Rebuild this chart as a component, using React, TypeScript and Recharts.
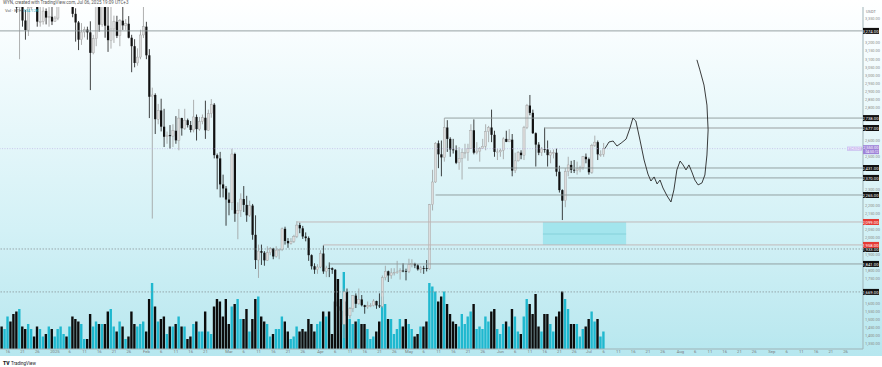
import { Bar, Cell, ComposedChart, Line, ReferenceArea, ReferenceDot, ReferenceLine, XAxis, YAxis } from "recharts";

// day 0 = Jan 1, 2025; first candle is Dec 14, 2024
const firstDay = -18;

const opens = [
  3908, 3873, 3960, 3986, 3876, 3625, 3418, 3479, 3338, 3279, 3419, 3493, 3489, 3331, 3332, 3396, 3356, 3361,
  3332, 3353, 3452, 3605, 3657, 3635, 3686, 3379, 3326, 3220, 3267, 3282, 3265, 3139, 3226, 3451, 3312, 3474, 3306, 3217, 3286, 3330, 3244, 3337, 3308, 3318, 3232, 3180, 3077, 3113, 3249,
  3300, 3124, 2869, 2880, 2731, 2785, 2685, 2623, 2633, 2627, 2660, 2601, 2738, 2675, 2725, 2695, 2665, 2745, 2670, 2717, 2740, 2663, 2765, 2820, 2510, 2490, 2330, 2305,
  2237, 2217, 2517, 2150, 2170, 2240, 2204, 2140, 2200, 2020, 1865, 1920, 1910, 1863, 1910, 1935, 1887, 1926, 1930, 2057, 1982, 1968, 1980, 2010, 2080, 2060, 2010, 2000, 1895, 1827, 1806,
  1822, 1905, 1795, 1816, 1815, 1805, 1580, 1553, 1470, 1670, 1522, 1566, 1646, 1596, 1623, 1587, 1577, 1585, 1585, 1613, 1586, 1580, 1757, 1796, 1770, 1786, 1790, 1792, 1800, 1798,
  1793, 1838, 1842, 1832, 1808, 1816, 1815, 1811, 2206, 2345, 2583, 2515, 2496, 2680, 2610, 2545, 2540, 2463, 2490, 2525, 2525, 2550, 2663, 2525, 2535, 2550, 2565, 2655, 2680, 2635, 2530,
  2530, 2540, 2610, 2592, 2605, 2415, 2475, 2525, 2510, 2680, 2815, 2770, 2645, 2575, 2525, 2548, 2545, 2510, 2525, 2525, 2408, 2295, 2230, 2410, 2450, 2420, 2415, 2425, 2435, 2500,
  2485, 2405, 2570, 2590, 2515, 2515,
];
const highs = [
  3944, 3975, 4107, 4038, 3909, 3724, 3495, 3557, 3402, 3443, 3520, 3515, 3500, 3429, 3420, 3412, 3430, 3451,
  3366, 3500, 3620, 3672, 3670, 3744, 3700, 3413, 3335, 3322, 3300, 3300, 3333, 3250, 3473, 3475, 3525, 3482, 3446, 3450, 3368, 3367, 3347, 3425, 3347, 3365, 3250, 3223, 3167, 3281, 3437,
  3330, 3162, 2925, 2890, 2825, 2857, 2795, 2655, 2695, 2700, 2750, 2794, 2740, 2795, 2735, 2720, 2850, 2760, 2745, 2760, 2845, 2790, 2855, 2830, 2520, 2530, 2390, 2320,
  2280, 2550, 2525, 2220, 2275, 2320, 2260, 2230, 2210, 2140, 1960, 1960, 1920, 1950, 1945, 1940, 1950, 1935, 2065, 2070, 2000, 2000, 2020, 2104, 2095, 2075, 2035, 2010, 1900, 1845, 1840,
  1925, 1955, 1830, 1850, 1820, 1810, 1640, 1615, 1690, 1690, 1576, 1650, 1660, 1690, 1650, 1590, 1610, 1600, 1625, 1615, 1660, 1770, 1830, 1800, 1815, 1815, 1860, 1815, 1845, 1812,
  1873, 1870, 1848, 1840, 1830, 1830, 1865, 2210, 2420, 2590, 2600, 2600, 2738, 2725, 2620, 2610, 2570, 2560, 2550, 2580, 2580, 2700, 2730, 2590, 2560, 2610, 2700, 2690, 2790, 2660, 2550,
  2550, 2620, 2660, 2670, 2640, 2525, 2535, 2540, 2690, 2825, 2880, 2790, 2650, 2590, 2560, 2680, 2600, 2540, 2545, 2550, 2445, 2300, 2430, 2500, 2475, 2480, 2470, 2445, 2505, 2520,
  2495, 2580, 2630, 2600, 2540, 2585,
];
const lows = [
  3850, 3835, 3880, 3850, 3575, 3385, 3100, 3300, 3220, 3243, 3400, 3430, 3300, 3300, 3313, 3314, 3300, 3310,
  3330, 3340, 3440, 3590, 3600, 3620, 3358, 3208, 3156, 3188, 3234, 3220, 2910, 3130, 3180, 3269, 3300, 3232, 3145, 3165, 3200, 3230, 3180, 3280, 3280, 3228, 3020, 3050, 3060, 3100, 3230,
  3100, 2738, 2120, 2640, 2700, 2656, 2560, 2580, 2550, 2560, 2580, 2540, 2630, 2665, 2680, 2650, 2650, 2600, 2660, 2700, 2610, 2660, 2740, 2490, 2300, 2250, 2250, 2076,
  2140, 2172, 2100, 1993, 2130, 2160, 2100, 2130, 1990, 1810, 1755, 1835, 1830, 1860, 1895, 1870, 1880, 1870, 1920, 1960, 1940, 1960, 1970, 2000, 2030, 1995, 1980, 1860, 1807, 1780, 1780,
  1815, 1780, 1760, 1760, 1780, 1540, 1410, 1450, 1385, 1470, 1505, 1545, 1570, 1590, 1580, 1535, 1565, 1575, 1580, 1565, 1570, 1570, 1740, 1730, 1750, 1770, 1780, 1745, 1790, 1740,
  1785, 1820, 1815, 1800, 1785, 1780, 1795, 1805, 2170, 2340, 2430, 2380, 2470, 2530, 2500, 2520, 2455, 2420, 2360, 2490, 2475, 2550, 2515, 2515, 2470, 2550, 2540, 2590, 2590, 2500, 2480,
  2500, 2485, 2590, 2590, 2380, 2400, 2470, 2485, 2480, 2670, 2755, 2640, 2440, 2510, 2505, 2525, 2440, 2460, 2490, 2380, 2280, 2111, 2190, 2380, 2400, 2400, 2390, 2405, 2420, 2460,
  2390, 2395, 2560, 2480, 2500, 2500,
];
const closes = [
  3873, 3960, 3986, 3876, 3625, 3418, 3479, 3338, 3279, 3419, 3493, 3489, 3331, 3332, 3396, 3356, 3361, 3332,
  3353, 3452, 3605, 3657, 3635, 3686, 3379, 3326, 3220, 3267, 3282, 3265, 3139, 3226, 3451, 3312, 3474, 3306, 3217, 3286, 3330, 3244, 3337, 3308, 3318, 3232, 3180, 3077, 3113, 3249, 3300,
  3124, 2869, 2880, 2731, 2785, 2685, 2623, 2633, 2627, 2660, 2601, 2738, 2675, 2725, 2695, 2665, 2745, 2670, 2717, 2740, 2663, 2765, 2820, 2510, 2490, 2330, 2305, 2237,
  2217, 2517, 2150, 2170, 2240, 2204, 2140, 2200, 2020, 1865, 1920, 1910, 1863, 1910, 1935, 1887, 1926, 1930, 2057, 1982, 1968, 1980, 2010, 2080, 2060, 2010, 2000, 1895, 1827, 1806, 1822,
  1905, 1795, 1816, 1815, 1805, 1580, 1553, 1470, 1670, 1522, 1566, 1646, 1596, 1623, 1587, 1577, 1585, 1585, 1613, 1586, 1580, 1757, 1796, 1770, 1786, 1790, 1792, 1800, 1798, 1793,
  1838, 1842, 1832, 1808, 1816, 1815, 1811, 2206, 2345, 2583, 2515, 2496, 2680, 2610, 2545, 2540, 2463, 2490, 2525, 2525, 2550, 2663, 2525, 2535, 2550, 2565, 2655, 2680, 2635, 2530, 2530,
  2540, 2610, 2592, 2605, 2415, 2475, 2525, 2510, 2680, 2815, 2770, 2645, 2575, 2525, 2548, 2545, 2510, 2525, 2525, 2408, 2295, 2230, 2410, 2450, 2420, 2415, 2425, 2435, 2500, 2485,
  2405, 2570, 2590, 2515, 2515, 2550,
];
const volumes = [
  450, 400, 650, 550, 700, 750, 800, 450, 400, 500, 400, 250, 450, 400, 250, 300, 450, 400,
  250, 400, 450, 300, 250, 450, 650, 600, 550, 500, 200, 200, 700, 450, 550, 500, 500, 500, 750, 800, 450, 350, 550, 450, 200, 250, 750, 500, 450, 500, 550,
  350, 1000, 1320, 850, 550, 600, 650, 300, 450, 450, 500, 650, 450, 450, 200, 250, 500, 550, 350, 350, 750, 350, 300, 850, 1000, 950, 650, 1000,
  500, 850, 900, 1000, 600, 600, 800, 350, 600, 1000, 1050, 650, 550, 500, 250, 300, 400, 400, 650, 550, 350, 200, 250, 450, 350, 400, 350, 600, 500, 350, 500,
  550, 750, 650, 750, 300, 950, 1400, 1000, 1540, 950, 600, 500, 550, 600, 500, 500, 400, 200, 250, 350, 550, 1050, 900, 600, 600, 300, 400, 600, 450, 600,
  500, 400, 250, 300, 450, 450, 550, 1320, 1250, 1150, 950, 1050, 1150, 900, 700, 550, 500, 450, 700, 500, 650, 750, 900, 400, 450, 400, 650, 550, 750, 800, 400,
  300, 500, 550, 450, 800, 650, 350, 300, 650, 1000, 900, 700, 1100, 450, 350, 700, 700, 500, 350, 650, 750, 1150, 1000, 800, 500, 500, 500, 250, 400, 450,
  600, 750, 550, 600, 250, 350,
];

// drawn levels
const fullLevels = [3274];
const dottedLevels = [1933, 1669];
const segLevels = [2738, 2677, 2431, 2370, 2265, 2099, 1958, 1841];
const segFrom = [132, 166, 140, 174, 129, 82, 91, 93];
const redTagged = [2099, 1958];
const lastPrice = 2550;

// zone box
const zoneFrom = 165.4;
const zoneTo = 193.6;
const zoneLow = 1958;
const zoneHigh = 2099;
const zoneMid = 2025;

// hand drawn projection
const projDays = [186.4, 187.8, 189.2, 190.5, 191.9, 193.6, 194.9, 195.9, 196.9, 198.3, 199.7, 201.0, 202.0, 203.1, 204.1, 205.1, 206.1, 207.5, 208.8, 209.8, 210.8, 211.9, 212.9, 213.9, 214.9, 215.9, 216.9, 218.0, 219.3, 220.3, 221.0, 221.4, 221.0, 220.0, 218.6, 217.6];
const projPrices = [2550, 2591, 2597, 2566, 2584, 2609, 2676, 2738, 2720, 2603, 2480, 2394, 2351, 2376, 2333, 2357, 2308, 2259, 2222, 2296, 2419, 2474, 2450, 2419, 2450, 2406, 2357, 2327, 2339, 2388, 2511, 2665, 2818, 2941, 3034, 3096];

const timeTicks = [-16, -11, -6, 0, 5, 10, 15, 20, 25, 31, 36, 41, 46, 51, 59, 64, 69, 74, 79, 84, 90, 95, 100, 105, 110, 115, 120, 125, 130, 135, 140, 145, 151, 156, 161, 166, 171, 176, 181, 186, 191, 196, 201, 206, 212, 217, 222, 227, 232, 237, 243, 248, 253, 258, 263, 268];
const timeLabels = ["16", "21", "26", "2025", "6", "11", "16", "21", "26", "Feb", "6", "11", "16", "21", "Mar", "6", "11", "16", "21", "26", "Apr", "6", "11", "16", "21", "26", "May", "6", "11", "16", "21", "26", "Jun", "6", "11", "16", "21", "26", "Jul", "6", "11", "16", "21", "26", "Aug", "6", "11", "16", "21", "26", "Sep", "6", "11", "16", "21", "26"];

const priceTicks = [1350, 1400, 1450, 1500, 1550, 1600, 1650, 1700, 1750, 1800, 1850, 1900, 1950, 2000, 2050, 2100, 2150, 2200, 2250, 2300, 2350, 2400, 2450, 2500, 2550, 2600, 2650, 2700, 2750, 2800, 2850, 2900, 2950, 3000, 3050, 3100, 3150, 3200, 3250, 3300, 3350];

const rows = closes.map((c, i) => ({
  d: firstDay + i,
  open: opens[i],
  high: highs[i],
  low: lows[i],
  close: c,
  range: [lows[i], highs[i]],
  vol: volumes[i],
}));
const projection = projDays.map((d, i) => ({ d, p: projPrices[i] }));

// axis labels hidden behind the level tags, as on the price scale
const tagPrices = [...fullLevels, ...dottedLevels, ...segLevels];
const shownTicks = priceTicks.filter(
  (t) => tagPrices.every((p) => Math.abs(t - p) > 31) && Math.abs(t - lastPrice) > 40
);

const X_MIN = -18.64;
const X_MAX = 273.9;
const fmt = (v: number) => v.toLocaleString("en-US", { minimumFractionDigits: 2, maximumFractionDigits: 2 });
const font = "Roboto, 'Liberation Sans', sans-serif";

function Candle(props: any) {
  const { x, y, width, height, payload } = props;
  if (!payload) return null;
  const { open, close, high, low } = payload;
  const top = Math.min(y, y + height);
  const h = Math.abs(height);
  const span = high - low || 1;
  const yOf = (p: number) => top + ((high - p) / span) * h;
  const cx = x + width / 2;
  const up = close >= open;
  const bTop = yOf(Math.max(open, close));
  const bH = Math.max(0.8, Math.abs(yOf(open) - yOf(close)));
  return (
    <g>
      <line x1={cx} x2={cx} y1={top} y2={top + h} stroke={up ? "#9c9c9c" : "#111"} strokeWidth={0.8} />
      <rect x={cx - 1.1} y={bTop} width={2.2} height={bH} fill={up ? "#dcdcdc" : "#111"} stroke={up ? "#9c9c9c" : "none"} strokeWidth={0.4} />
    </g>
  );
}

const PriceTag = (color: string, text: string) => (props: any) => {
  const { cx, cy } = props;
  return (
    <g>
      <rect x={cx} y={cy - 3} width={16} height={6} fill={color} />
      <text x={cx + 15.5} y={cy + 1.6} fontSize={4.2} fill="#fff" textAnchor="end" fontFamily={font}>
        {text}
      </text>
    </g>
  );
};

const LastTag = (props: any) => {
  const { cx, cy } = props;
  return (
    <g>
      <rect x={cx - 16} y={cy - 2} width={15} height={4} fill="#c6b3ee" />
      <text x={cx - 8.5} y={cy + 1.2} fontSize={3.2} fill="#fff" textAnchor="middle" fontFamily={font}>
        ETHUSDT
      </text>
      <rect x={cx} y={cy - 3.5} width={16} height={9} fill="#9e83d8" />
      <text x={cx + 15.5} y={cy + 0.8} fontSize={4} fill="#fff" textAnchor="end" fontFamily={font}>
        {fmt(lastPrice)}
      </text>
      <text x={cx + 15.5} y={cy + 4.6} fontSize={3.4} fill="#fff" textAnchor="end" fontFamily={font}>
        04:50:12
      </text>
    </g>
  );
};

export default function App() {
  return (
    <div
      style={{
        position: "absolute",
        left: 0,
        top: 0,
        width: 882,
        height: 367,
        fontFamily: font,
        background:
          "linear-gradient(to bottom, #ffffff 0px, #fbfeff 20px, #e6f7fa 130px, #d3f1f6 230px, #bde9f0 330px, #b6e7ef 356px, #ffffff 356px)",
      }}
    >
      <div style={{ position: "absolute", left: 3, top: 0, fontSize: 4.5, color: "#555", whiteSpace: "nowrap" }}>
        WYN, created with TradingView.com, Jul 06, 2025 19:09 UTC+3
      </div>
      <div style={{ position: "absolute", left: 5, top: 8, fontSize: 4.2, color: "#666", whiteSpace: "nowrap", zIndex: 2 }}>
        Vol · ETH <span style={{ color: "#1fb3c9" }}>334.12K</span>
      </div>
      <div style={{ position: "absolute", left: 866, top: 9, fontSize: 4, color: "#777" }}>USDT</div>
      <ComposedChart width={882} height={356} data={rows} margin={{ top: 7, right: 0, bottom: 0, left: 0 }}>
        <XAxis
          xAxisId="p"
          dataKey="d"
          type="number"
          domain={[X_MIN, X_MAX]}
          allowDataOverflow
          ticks={timeTicks}
          tickFormatter={(v: number) => timeLabels[timeTicks.indexOf(v)] ?? ""}
          height={7}
          tickSize={0}
          tickMargin={1.5}
          tick={{ fontSize: 4.2, fill: "#7a7a7a" }}
          axisLine={{ stroke: "#9fb3b7" }}
          tickLine={false}
          interval={0}
        />
        <XAxis xAxisId="v" dataKey="d" type="number" domain={[X_MIN, X_MAX]} allowDataOverflow hide />
        <YAxis
          yAxisId="price"
          orientation="right"
          type="number"
          domain={[1318, 3421]}
          allowDataOverflow
          ticks={shownTicks}
          tickFormatter={fmt}
          width={19}
          tickSize={0}
          tickMargin={2}
          tick={{ fontSize: 3.9, fill: "#8a8a8a" }}
          axisLine={{ stroke: "#9fb3b7" }}
          tickLine={false}
          interval={0}
        />
        <YAxis yAxisId="vol" type="number" domain={[0, 6840]} hide />

        <Bar xAxisId="v" yAxisId="vol" dataKey="vol" barSize={2.4} isAnimationActive={false}>
          {rows.map((r) => (
            <Cell key={r.d} fill={r.close >= r.open ? "#1fb8cf" : "#0c0c0c"} />
          ))}
        </Bar>

        <ReferenceArea xAxisId="p" yAxisId="price" x1={zoneFrom} x2={zoneTo} y1={zoneLow} y2={zoneHigh} fill="#8fdfea" fillOpacity={0.7} stroke="none" />
        <ReferenceLine xAxisId="p" yAxisId="price" segment={[{ x: zoneFrom, y: zoneMid }, { x: zoneTo, y: zoneMid }]} stroke="#7fcbd6" strokeWidth={0.8} />

        {fullLevels.map((p) => (
          <ReferenceLine key={"f" + p} xAxisId="p" yAxisId="price" y={p} stroke="#8c9799" strokeWidth={0.9} />
        ))}
        {dottedLevels.map((p) => (
          <ReferenceLine key={"o" + p} xAxisId="p" yAxisId="price" y={p} stroke="#8c9799" strokeWidth={0.8} strokeDasharray="1.5 1.5" />
        ))}
        <ReferenceLine xAxisId="p" yAxisId="price" y={lastPrice} stroke="#b9a8e0" strokeWidth={0.6} strokeDasharray="1 1.5" />
        {segLevels.map((p, i) => (
          <ReferenceLine
            key={"s" + p}
            xAxisId="p"
            yAxisId="price"
            segment={[{ x: segFrom[i], y: p }, { x: X_MAX, y: p }]}
            stroke={redTagged.includes(p) ? "#bfb2b2" : i === 1 ? "#b3bcbe" : "#8c9799"}
            strokeWidth={i === 1 ? 1.5 : 0.9}
          />
        ))}

        <Bar xAxisId="p" yAxisId="price" dataKey="range" barSize={2.2} shape={Candle} isAnimationActive={false} />

        <Line
          xAxisId="p"
          yAxisId="price"
          data={projection}
          dataKey="p"
          type="linear"
          stroke="#262626"
          strokeWidth={0.9}
          dot={false}
          activeDot={false}
          isAnimationActive={false}
        />

        {tagPrices.map((p) => (
          <ReferenceDot
            key={"t" + p}
            xAxisId="p"
            yAxisId="price"
            x={X_MAX}
            y={p}
            r={0}
            ifOverflow="visible"
            shape={PriceTag(redTagged.includes(p) ? "#e53935" : "#111", fmt(p))}
          />
        ))}
        <ReferenceDot xAxisId="p" yAxisId="price" x={X_MAX} y={lastPrice} r={0} ifOverflow="visible" shape={LastTag} />
      </ComposedChart>
      <div style={{ position: "absolute", left: 3, top: 360, fontSize: 4.5, color: "#131722", whiteSpace: "nowrap", display: "flex", alignItems: "center" }}>
        <span style={{ fontWeight: 900, fontSize: 5, marginRight: 1.5 }}>TV</span>TradingView
      </div>
    </div>
  );
}
